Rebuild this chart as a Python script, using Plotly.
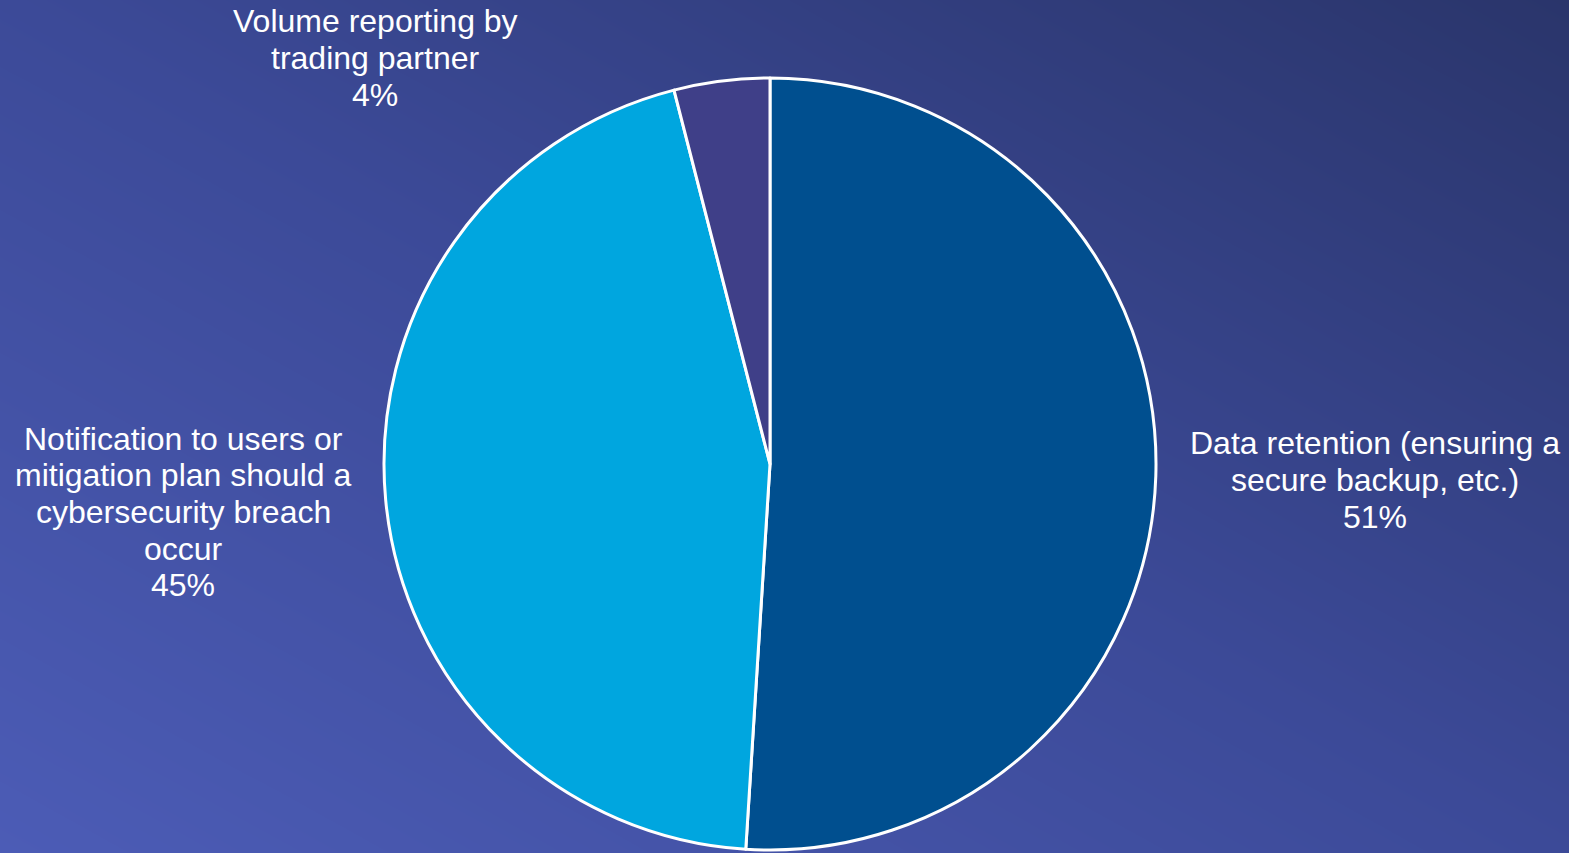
import numpy as np
import plotly.graph_objects as go

# Data
labels = ["Data retention (ensuring a<br>secure backup, etc.)",
          "Notification to users or<br>mitigation plan should a<br>cybersecurity breach<br>occur",
          "Volume reporting by<br>trading partner"]
values = [51, 45, 4]
colors = ["#004F8F", "#00A6DF", "#3F3F88"]

W, H = 1569, 853

# Label placement (pixel centre of each text block) - layout
label_pos = [(1375, 480), (183, 512), (375, 58)]
LINE_H = 36.6
FONT_SIZE = 32

# Background gradient (style)
nx, ny = 60, 40
gx = np.linspace(0, 1, nx)
gy = np.linspace(0, 1, ny)
GX, GY = np.meshgrid(gx, gy)
Z = (GX * W * 0.55 + GY * H * 1.0) / (W * 0.55 + H * 1.0)

fig = go.Figure()
fig.add_trace(go.Heatmap(
    x=gx, y=gy, z=Z, zsmooth="best", showscale=False, hoverinfo="skip",
    colorscale=[[0, "#4C5CB6"], [0.5, "#3C4A98"], [1, "#2A356B"]],
))

fig.add_trace(go.Pie(
    labels=labels, values=values, sort=False, direction="clockwise", rotation=0,
    marker=dict(colors=colors, line=dict(color="white", width=3)),
    textinfo="none", hoverinfo="label+percent",
    domain=dict(x=[(770 - 387) / W, (770 + 387) / W], y=[3 / H, 775 / H]),
    showlegend=False,
))

total = sum(values)
for lab, v, (cx, cy) in zip(labels, values, label_pos):
    lines = lab.split("<br>") + [f"{round(100 * v / total)}%"]
    n = len(lines)
    for i, line in enumerate(lines):
        y_px = cy + (i - (n - 1) / 2) * LINE_H
        fig.add_annotation(
            x=cx / W, y=1 - y_px / H, xref="paper", yref="paper", showarrow=False,
            text=line,
            font=dict(family="Liberation Sans, Arial, sans-serif", size=FONT_SIZE, color="white"),
            align="center", xanchor="center", yanchor="middle",
        )

fig.update_layout(
    width=W, height=H, margin=dict(l=0, r=0, t=0, b=0),
    paper_bgcolor="#3C4A98", plot_bgcolor="#3C4A98",
    xaxis=dict(visible=False, range=[0, 1], domain=[0, 1], fixedrange=True),
    yaxis=dict(visible=False, range=[0, 1], domain=[0, 1], fixedrange=True),
)

fig.write_html("out.html", config={"displayModeBar": False})
